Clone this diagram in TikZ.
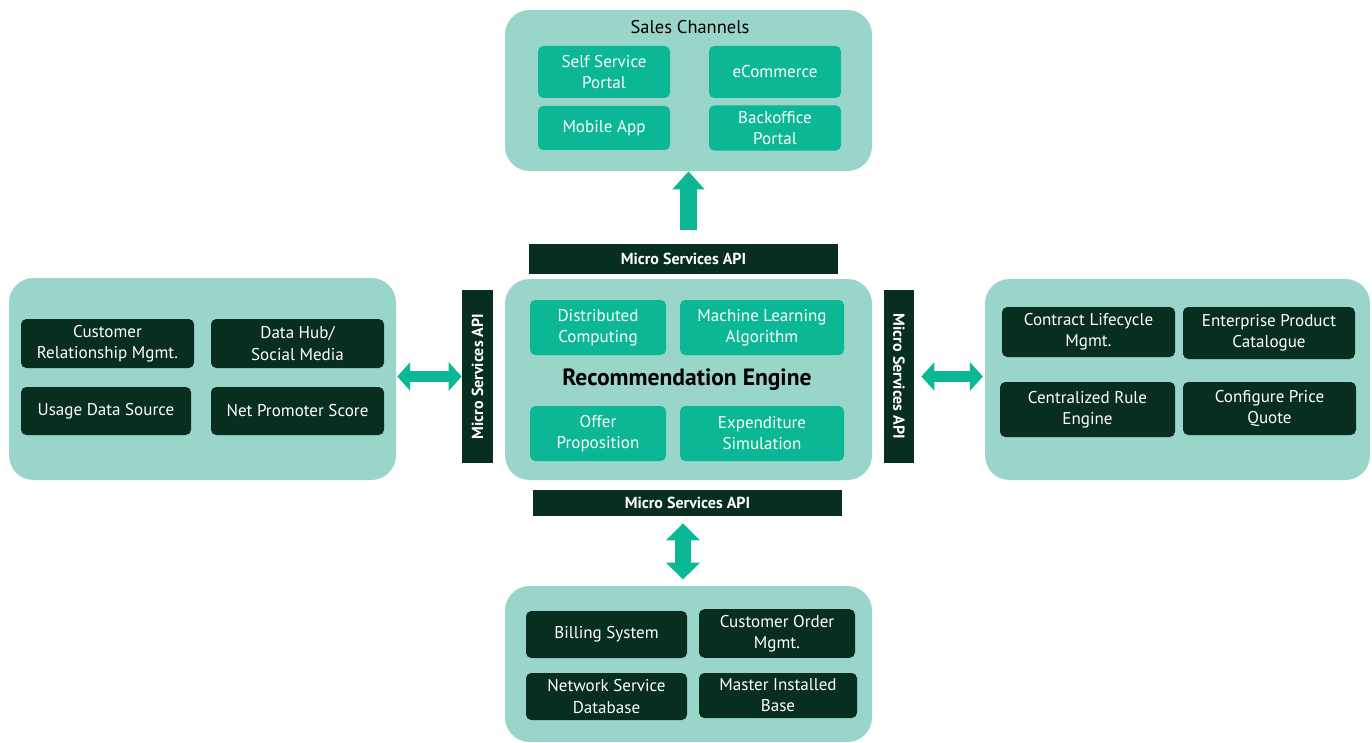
\documentclass[tikz,border=0pt]{standalone}
\usepackage{fontspec}
\setmainfont{PT Sans}
\usetikzlibrary{calc,arrows.meta}
\definecolor{panelc}{HTML}{9AD5CA}
\definecolor{greenc}{HTML}{0BB794}
\definecolor{darkc}{HTML}{072E1F}
\def\api{\textbf{Micro Services API}}
\tikzset{
	panel/.style 2 args={fill=panelc, rounded corners=14pt, minimum width=#1*0.02cm, minimum height=#2*0.02cm},
	gbox/.style 2 args={fill=greenc, text=white, rounded corners=3pt, align=center, font=\fontsize{9.7}{12}\selectfont, minimum width=#1*0.02cm, minimum height=#2*0.02cm},
	dbox/.style 2 args={gbox={#1}{#2}, fill=darkc},
	apibar/.style 2 args={fill=darkc, text=white, font=\fontsize{9.1}{10}\selectfont, inner sep=0pt, minimum width=#1*0.02cm, minimum height=#2*0.02cm},
	hdbl/.style={draw=greenc, line width=5.7pt, {Triangle[length=7.4pt,width=15.9pt]}-{Triangle[length=7.4pt,width=15.9pt]}},
	vdbl/.style={draw=greenc, line width=9pt, {Triangle[length=9.6pt,width=18.7pt]}-{Triangle[length=9.6pt,width=18.7pt]}},
	uparr/.style={draw=greenc, line width=9.6pt, -{Triangle[length=10.2pt,width=17.6pt]}}
}

\begin{document}
\begin{tikzpicture}[x=0.02cm, y=-0.02cm]
			%%%%% START %%%%%
			\useasboundingbox (0,0) rectangle (1372,743);
			
			% sales channels
			\node[panel={367}{161}] (sales) at (688.5, 90.5) {};
			\node[font=\fontsize{10.5}{12}\selectfont] (salestitle) at (690, 27) {Sales Channels};
			\node[gbox={132}{52}] (selfserv) at (604, 72) {Self Service\\Portal};
			\node[gbox={132}{52}] (ecom) at (775, 72) {eCommerce};
			\node[gbox={132}{44}] (mobile) at (604, 128) {Mobile App};
			\node[gbox={132}{44}] (backoff) at (775, 128) {Backoffice\\Portal};
			
			% recommendation engine
			\node[panel={367}{201}] (engine) at (688.5, 379.5) {};
			\node[gbox={136}{55}] (distrib) at (598, 327.5) {Distributed\\Computing};
			\node[gbox={164}{55}] (mlalgo) at (762, 327.5) {Machine Learning\\Algorithm};
			\node[font=\bfseries\fontsize{13.4}{15}\selectfont] (enginetitle) at (687, 380) {Recommendation Engine};
			\node[gbox={136}{55}] (offer) at (598, 433.5) {Offer\\Proposition};
			\node[gbox={164}{55}] (expend) at (762, 433.5) {Expenditure\\Simulation};
			
			% api bars
			\node[apibar={309}{30}] (apitop) at (683.5, 259) {\api};
			\node[apibar={309}{26}] (apibot) at (687.5, 503) {\api};
			\node[apibar={31}{173}] (apileft) at (477.5, 376.5) {\rotatebox{90}{\api}};
			\node[apibar={30}{173}] (apiright) at (899, 376.5) {\rotatebox{-90}{\api}};
			
			% data sources
			\node[panel={387}{202}] (sources) at (202.5, 379) {};
			\node[dbox={173}{49}] (crm) at (107.5, 343.5) {Customer\\Relationship Mgmt.};
			\node[dbox={173}{49}] (datahub) at (297.5, 343.5) {Data Hub/\\Social Media};
			\node[dbox={170}{48}] (usage) at (106, 411) {Usage Data Source};
			\node[dbox={173}{48}] (nps) at (297.5, 411) {Net Promoter Score};
			
			% product systems
			\node[panel={385}{201}] (product) at (1177.5, 379.5) {};
			\node[dbox={173}{50}] (contract) at (1088.5, 332) {Contract Lifecycle\\Mgmt.};
			\node[dbox={172}{52}] (catalogue) at (1269, 333) {Enterprise Product\\Catalogue};
			\node[dbox={175}{55}] (rules) at (1087.5, 409.5) {Centralized Rule\\Engine};
			\node[dbox={173}{53}] (cpq) at (1269.5, 408.5) {Configure Price\\Quote};
			
			% back end
			\node[panel={367}{156}] (backend) at (688.5, 664) {};
			\node[dbox={161}{47}] (billing) at (606.5, 634.5) {Billing System};
			\node[dbox={156}{45}] (order) at (777, 633.5) {Customer Order\\Mgmt.};
			\node[dbox={161}{47}] (network) at (606.5, 696.5) {Network Service\\Database};
			\node[dbox={158}{45}] (installed) at (778, 695.5) {Master Installed\\Base};
			
			% arrows
			\draw[uparr, shorten <=8pt] (apitop.north -| sales.south) -- (sales.south);
			\draw[hdbl, shorten >=0.5pt] (apileft.west) -- (apileft.west -| sources.east);
			\draw[hdbl, shorten <=4pt, shorten >=1pt] (apiright.east) -- (apiright.east -| product.west);
			\draw[vdbl, shorten <=4pt, shorten >=3.5pt] (apibot.south -| 683,0) -- (683,0 |- backend.north);
			
			%%%%% END %%%%%
		\end{tikzpicture}
\end{document}
